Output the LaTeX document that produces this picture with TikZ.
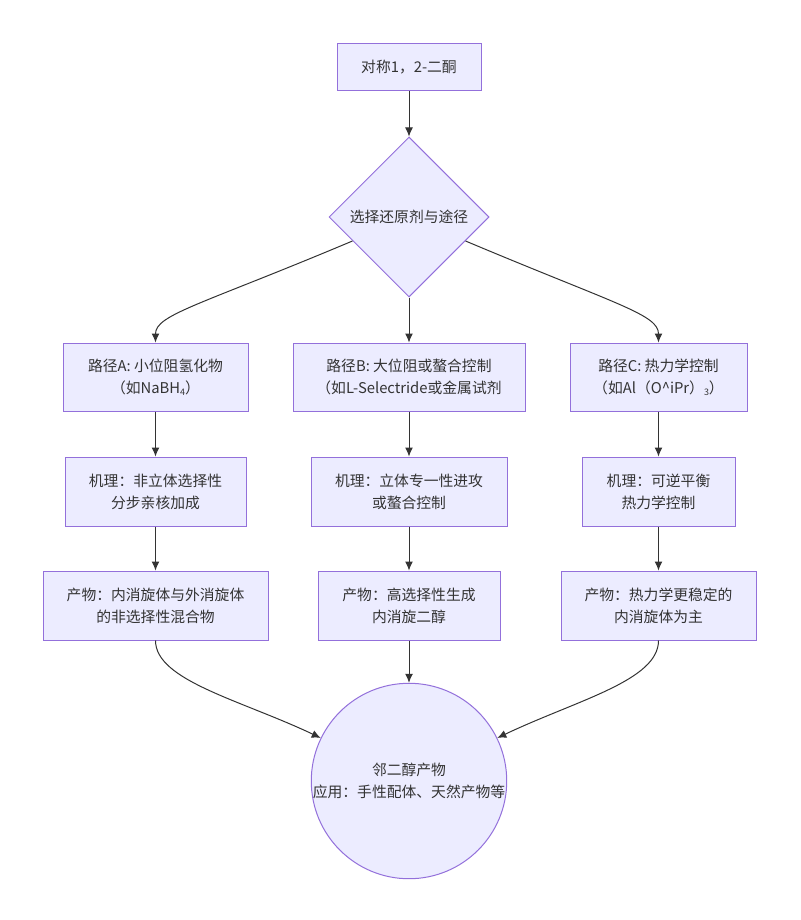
\documentclass[tikz,border=0pt]{standalone}
\usepackage{fontspec}
\setmainfont{Noto Sans CJK SC}
\usetikzlibrary{shapes.geometric,arrows.meta}
\definecolor{boxfill}{HTML}{ECECFF}
\definecolor{boxline}{HTML}{9370DB}
\definecolor{ink}{HTML}{333333}
\newcommand{\subidx}[1]{\raisebox{-0.3ex}{\fontsize{9}{9}\selectfont #1}}

\begin{document}
\begin{tikzpicture}
      [
      x=1pt,y=-1pt,
      every node/.style={font=\fontsize{14.8}{22}\selectfont,text=ink},
      stepbox/.style={rectangle,draw=boxline,fill=boxfill,line width=1pt,align=center,inner sep=0pt,minimum height=69pt},
      choice/.style={diamond,draw=boxline,fill=boxfill,line width=1pt,align=center,inner sep=0pt,minimum width=160pt,minimum height=160pt},
      result/.style={circle,draw=boxline,fill=boxfill,line width=1pt,align=center,inner sep=0pt,minimum size=192pt},
      flow/.style={draw=ink,line width=1pt,-{Latex[length=9pt,width=8pt]}}
      ]
      \useasboundingbox (0,0) rectangle (800,920);
      \node (start) at (409,67.5) [stepbox,minimum width=144pt,minimum height=47pt] {对称1，2-二酮};
      \node (pick) at (409,217) [choice] {选择还原剂与途径};
      \node (a1) at (155.5,377) [stepbox,minimum width=185pt,minimum height=68pt] {路径A: 小位阻氢化物\\（如NaBH\subidx{4}）};
      \node (b1) at (409,377) [stepbox,minimum width=232pt,minimum height=68pt] {路径B: 大位阻或螯合控制\\（如L-Selectride或金属试剂};
      \node (c1) at (658.5,377) [stepbox,minimum width=177pt,minimum height=68pt] {路径C: 热力学控制\\（如Al（O\^{}iPr）\subidx{3}）};
      \node (a2) at (155.5,491.5) [stepbox,minimum width=181pt] {机理：非立体选择性\\分步亲核加成};
      \node (b2) at (409,491.5) [stepbox,minimum width=196pt] {机理：立体专一性进攻\\或螯合控制};
      \node (c2) at (658.5,491.5) [stepbox,minimum width=153pt] {机理：可逆平衡\\热力学控制};
      \node (a3) at (155.5,605.5) [stepbox,minimum width=225pt] {产物：内消旋体与外消旋体\\的非选择性混合物};
      \node (b3) at (409,605.5) [stepbox,minimum width=182pt] {产物：高选择性生成\\内消旋二醇};
      \node (c3) at (658.5,605.5) [stepbox,minimum width=195pt] {产物：热力学更稳定的\\内消旋体为主};
      \node (diol) at (409,781) [result] {邻二醇产物\\应用：手性配体、天然产物等};
      \draw [flow] (start) to (pick);
      \draw [flow] (pick.203) .. controls +(-152,64) and +(0,-28) .. (a1.north);
      \draw [flow] (pick) to (b1);
      \draw [flow] (pick.-23) .. controls +(152,64) and +(0,-28) .. (c1.north);
      \draw [flow] (a1) to (a2);
      \draw [flow] (b1) to (b2);
      \draw [flow] (c1) to (c2);
      \draw [flow] (a2) to (a3);
      \draw [flow] (b2) to (b3);
      \draw [flow] (c2) to (c3);
      \draw [flow] (a3.south) .. controls +(0,40) and +(-80,-38) .. (diol.154);
      \draw [flow] (b3) to (diol);
      \draw [flow] (c3.south) .. controls +(0,40) and +(80,-38) .. (diol.26);
    \end{tikzpicture}
\end{document}
